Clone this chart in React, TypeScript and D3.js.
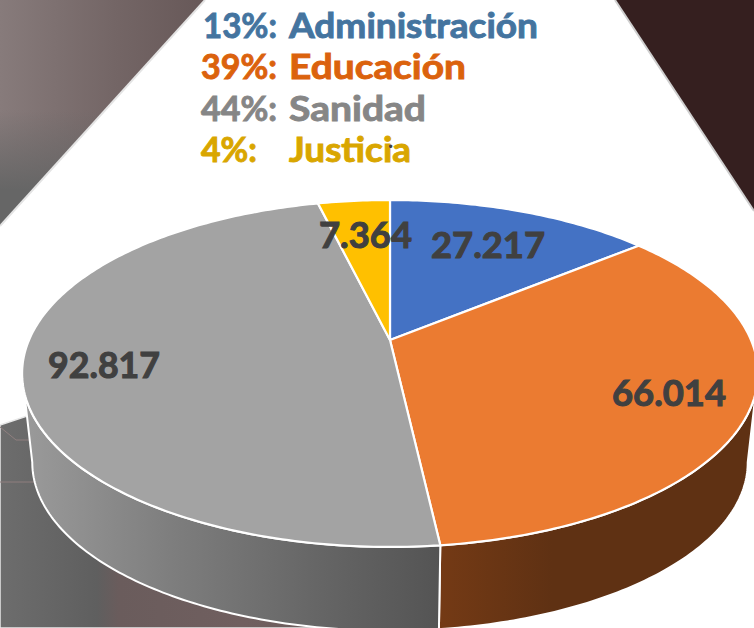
import React from "react";
import * as d3 from "d3";

const W = 754;
const H = 628;

const categories = ["Administración", "Educación", "Sanidad", "Justicia"];
const values = [27217, 66014, 92817, 7364];
const valueLabels = ["27.217", "66.014", "92.817", "7.364"];
const percents = ["13%:", "39%:", "44%:", "4%:"];
const topColors = ["#4472c4", "#eb7b31", "#a3a3a3", "#ffc000"];
const textColors = ["#44749f", "#db620d", "#868686", "#d9a600"];

// Layout (separate from the data)
const labelX = [431, 612, 48, 319];
const labelW = [114, 114, 112, 93];
const labelY = [258, 406, 378, 248];
const legendY = [38, 79, 121, 162];
const legendNameW = [249, 177, 137, 122];
const legendPctW = [74, 76, 76, 56];
const legendPctX = [203, 201, 201, 201];

const K = 0.193;
const topRim = { cx: 390, cy: 340, R: 361, S: 167 };
const lowRim = { cx: 390, cy: 430, R: 351, S: 162 };

// Tilted-disc perspective: unit circle (u, v) onto the picture
const persp = d3.scaleLinear().domain([-1, 1]).range([-1, 1]);
function project(theta: number, rim: typeof topRim): [number, number] {
  const u = Math.sin(theta);
  const v = -Math.cos(theta);
  const d = 1 - K * v;
  return [rim.cx + (rim.R * persp(u)) / d, rim.cy + (rim.S * persp(v)) / d];
}
function samples(a: number, b: number): number[] {
  const n = Math.max(2, Math.ceil(Math.abs(b - a) / 0.015));
  return d3.range(n + 1).map((i) => a + ((b - a) * i) / n);
}
const line = d3.line<[number, number]>();

const arcs = d3
  .pie<number>()
  .sort(null)
  .startAngle(0)
  .endAngle(2 * Math.PI)(values);

const sideStart = Math.acos(-K);
const sideEnd = 2 * Math.PI - sideStart;

function topPath(a: number, b: number): string {
  const pts = samples(a, b).map((t) => project(t, topRim));
  return line([[topRim.cx, topRim.cy], ...pts])! + "Z";
}
function wallPath(a: number, b: number): string | null {
  const s = Math.max(a, sideStart);
  const e = Math.min(b, sideEnd);
  if (e <= s) return null;
  const up = samples(s, e).map((t) => project(t, topRim));
  const lo = samples(e, s).map((t) => project(t, lowRim));
  return line([...up, ...lo])! + "Z";
}

const FONT = "Lato, 'Open Sans', sans-serif";

export default function App() {
  return (
    <svg
      width={W}
      height={H}
      viewBox={`0 0 ${W} ${H}`}
      style={{ position: "fixed", left: 0, top: 0, display: "block", background: "#fff" }}
    >
      <defs>
        <linearGradient id="bgTL" gradientUnits="userSpaceOnUse" x1="0" y1="0" x2="205" y2="0">
          <stop offset="0" stopColor="#877b7b" />
          <stop offset="0.55" stopColor="#746666" />
          <stop offset="1" stopColor="#675858" />
        </linearGradient>
        <linearGradient id="bgTLShade" gradientUnits="userSpaceOnUse" x1="0" y1="110" x2="0" y2="190">
          <stop offset="0" stopColor="#666666" stopOpacity={0} />
          <stop offset="1" stopColor="#666666" stopOpacity={1} />
        </linearGradient>
        <linearGradient id="bgBL" gradientUnits="userSpaceOnUse" x1="0" y1="0" x2="440" y2="0">
          <stop offset="0" stopColor="#6d6d6d" />
          <stop offset="0.22" stopColor="#5f5f5f" />
          <stop offset="0.27" stopColor="#6a5c5c" />
          <stop offset="0.55" stopColor="#705f5f" />
          <stop offset="1" stopColor="#6a5a5a" />
        </linearGradient>
        <linearGradient id="wallGray" gradientUnits="userSpaceOnUse" x1="25" y1="0" x2="440" y2="0">
          <stop offset="0" stopColor="#9a9a9a" />
          <stop offset="0.35" stopColor="#7e7e7e" />
          <stop offset="0.7" stopColor="#666666" />
          <stop offset="1" stopColor="#545454" />
        </linearGradient>
        <linearGradient id="wallOrange" gradientUnits="userSpaceOnUse" x1="440" y1="0" x2="760" y2="0">
          <stop offset="0" stopColor="#743a15" />
          <stop offset="0.35" stopColor="#5f3113" />
          <stop offset="1" stopColor="#5f3113" />
        </linearGradient>
      </defs>

      {/* Background shapes */}
      <path d="M0,0H205L0,226Z" fill="url(#bgTL)" />
      <path d="M0,0H205L0,226Z" fill="url(#bgTLShade)" />
      <path d="M205,0L0,226" fill="none" stroke="#e4e4e4" strokeWidth={2} />
      <path d="M615,0H754V211Z" fill="#351f1f" />
      <path d="M615,0L754,211" fill="none" stroke="#cfcfcf" strokeWidth={2} />
      <path d="M0,425L60,405L440,400V628H0Z" fill="url(#bgBL)" stroke="#e8e8e8" strokeWidth={1.5} />
      <path d="M0,427L16,440H30M0,482H36" fill="none" stroke="#8f7f7f" strokeWidth={1} />

      {/* Walls */}
      {arcs.map((a, i) => {
        const d = wallPath(a.startAngle, a.endAngle);
        if (!d) return null;
        return (
          <path
            key={categories[i]}
            d={d}
            fill={i === 1 ? "url(#wallOrange)" : "url(#wallGray)"}
            stroke="#fff"
            strokeWidth={2}
            strokeLinejoin="round"
          />
        );
      })}

      {/* Top face */}
      {arcs.map((a, i) => (
        <path
          key={categories[i]}
          d={topPath(a.startAngle, a.endAngle)}
          fill={topColors[i]}
          stroke="#fff"
          strokeWidth={2.2}
          strokeLinejoin="round"
        />
      ))}

      {/* Legend text */}
      <g fontFamily={FONT} fontWeight={700} fontSize={34} strokeWidth={0.9}>
        {categories.map((c, i) => (
          <g key={c} fill={textColors[i]} stroke={textColors[i]}>
            <text x={legendPctX[i]} y={legendY[i]} textLength={legendPctW[i]} lengthAdjust="spacingAndGlyphs">
              {percents[i]}
            </text>
            <text x={289} y={legendY[i]} textLength={legendNameW[i]} lengthAdjust="spacingAndGlyphs">
              {c}
            </text>
          </g>
        ))}
      </g>
      <text x={388} y={148} fontFamily={FONT} fontWeight={700} fontSize={22} fill="#404040">
        .
      </text>

      {/* Value labels */}
      <g fontFamily={FONT} fontWeight={700} fontSize={37} fill="#404040" stroke="#404040" strokeWidth={1.1}>
        {valueLabels.map((v, i) => (
          <text key={v} x={labelX[i]} y={labelY[i]} textLength={labelW[i]} lengthAdjust="spacingAndGlyphs">
            {v}
          </text>
        ))}
      </g>
    </svg>
  );
}
